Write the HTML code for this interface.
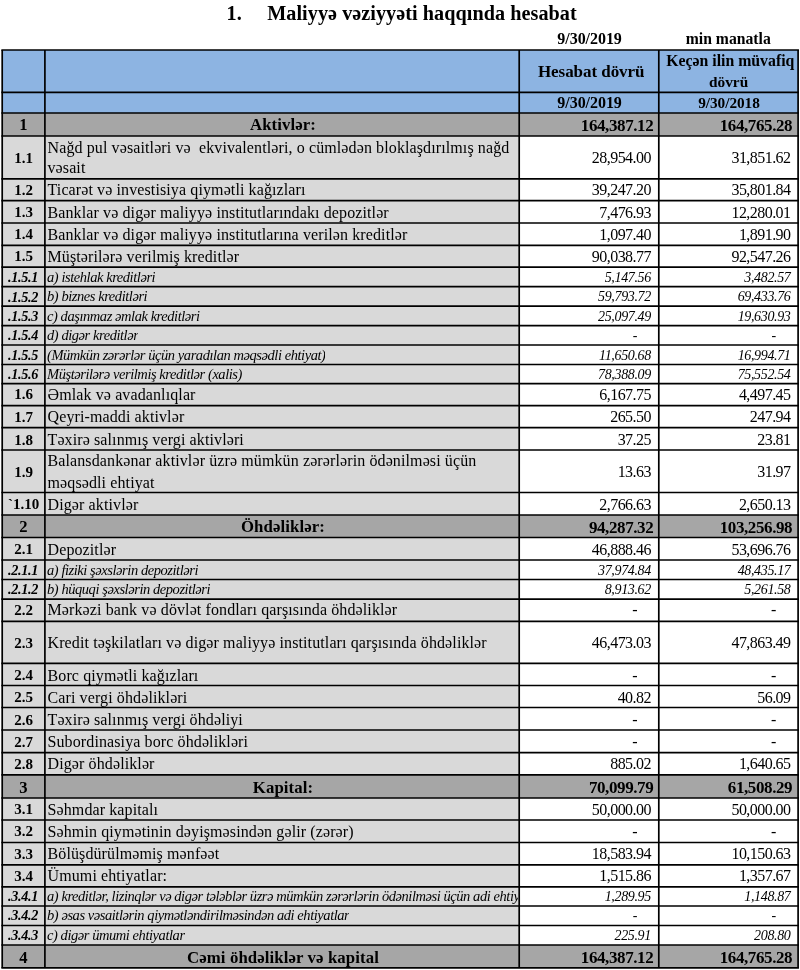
<!DOCTYPE html>
<html lang="az">
<head>
<meta charset="utf-8">
<title>Maliyyə vəziyyəti haqqında hesabat</title>
<style>
html,body{margin:0;padding:0;background:#fff;overflow:hidden;}
body{width:800px;height:970px;position:relative;overflow:hidden;font-family:"Liberation Serif",serif;color:#000;}
svg{position:absolute;left:0;top:0;}
.t{position:absolute;white-space:pre;line-height:40px;height:40px;margin:0;padding:0;}
.t::before{content:"";display:inline-block;height:30px;width:0;vertical-align:baseline;}
.nt{font-size:16px;letter-spacing:0.11px;}
.nn{font-size:16px;letter-spacing:-0.55px;}
.nl{font-size:15px;letter-spacing:0.0px;font-weight:bold;}
.it{font-size:14.5px;letter-spacing:-0.44px;font-style:italic;}
.inn{font-size:14px;letter-spacing:-0.35px;font-style:italic;}
.il{font-size:14.2px;letter-spacing:-0.3px;font-style:italic;font-weight:bold;}
.sl{font-size:16.6px;font-weight:bold;}
.st{font-size:16.8px;font-weight:bold;letter-spacing:0.1px;}
.sn{font-size:17px;letter-spacing:-0.4px;font-weight:bold;}
.hb{font-size:17px;font-weight:bold;letter-spacing:-0.05px;}
.hb2{font-size:15.8px;font-weight:bold;letter-spacing:0;}
.hd{font-size:16px;font-weight:bold;letter-spacing:-0.05px;}
.ttl{font-size:20.2px;font-weight:bold;letter-spacing:0.05px;}
</style>
</head>
<body>
<svg width="800" height="970" viewBox="0 0 800 970">
<g>
<rect x="2.20" y="50.00" width="795.90" height="42.30" fill="#8db4e2"/>
<rect x="2.20" y="92.30" width="795.90" height="20.70" fill="#8db4e2"/>
<rect x="2.20" y="113.00" width="795.90" height="23.00" fill="#a6a6a6"/>
<rect x="2.20" y="136.00" width="517.00" height="42.80" fill="#d9d9d9"/>
<rect x="2.20" y="178.80" width="517.00" height="21.90" fill="#d9d9d9"/>
<rect x="2.20" y="200.70" width="517.00" height="22.30" fill="#d9d9d9"/>
<rect x="2.20" y="223.00" width="517.00" height="22.30" fill="#d9d9d9"/>
<rect x="2.20" y="245.30" width="517.00" height="21.90" fill="#d9d9d9"/>
<rect x="2.20" y="267.20" width="517.00" height="19.50" fill="#d9d9d9"/>
<rect x="2.20" y="286.70" width="517.00" height="19.50" fill="#d9d9d9"/>
<rect x="2.20" y="306.20" width="517.00" height="19.50" fill="#d9d9d9"/>
<rect x="2.20" y="325.70" width="517.00" height="19.30" fill="#d9d9d9"/>
<rect x="2.20" y="345.00" width="517.00" height="19.50" fill="#d9d9d9"/>
<rect x="2.20" y="364.50" width="517.00" height="19.10" fill="#d9d9d9"/>
<rect x="2.20" y="383.60" width="517.00" height="22.00" fill="#d9d9d9"/>
<rect x="2.20" y="405.60" width="517.00" height="22.10" fill="#d9d9d9"/>
<rect x="2.20" y="427.70" width="517.00" height="22.30" fill="#d9d9d9"/>
<rect x="2.20" y="450.00" width="517.00" height="42.50" fill="#d9d9d9"/>
<rect x="2.20" y="492.50" width="517.00" height="22.50" fill="#d9d9d9"/>
<rect x="2.20" y="515.00" width="795.90" height="22.50" fill="#a6a6a6"/>
<rect x="2.20" y="537.50" width="517.00" height="22.50" fill="#d9d9d9"/>
<rect x="2.20" y="560.00" width="517.00" height="19.50" fill="#d9d9d9"/>
<rect x="2.20" y="579.50" width="517.00" height="19.70" fill="#d9d9d9"/>
<rect x="2.20" y="599.20" width="517.00" height="22.10" fill="#d9d9d9"/>
<rect x="2.20" y="621.30" width="517.00" height="42.00" fill="#d9d9d9"/>
<rect x="2.20" y="663.30" width="517.00" height="22.20" fill="#d9d9d9"/>
<rect x="2.20" y="685.50" width="517.00" height="22.00" fill="#d9d9d9"/>
<rect x="2.20" y="707.50" width="517.00" height="22.50" fill="#d9d9d9"/>
<rect x="2.20" y="730.00" width="517.00" height="22.70" fill="#d9d9d9"/>
<rect x="2.20" y="752.70" width="517.00" height="22.10" fill="#d9d9d9"/>
<rect x="2.20" y="774.80" width="795.90" height="23.20" fill="#a6a6a6"/>
<rect x="2.20" y="798.00" width="517.00" height="22.00" fill="#d9d9d9"/>
<rect x="2.20" y="820.00" width="517.00" height="22.50" fill="#d9d9d9"/>
<rect x="2.20" y="842.50" width="517.00" height="22.30" fill="#d9d9d9"/>
<rect x="2.20" y="864.80" width="517.00" height="22.00" fill="#d9d9d9"/>
<rect x="2.20" y="886.80" width="517.00" height="19.20" fill="#d9d9d9"/>
<rect x="2.20" y="906.00" width="517.00" height="19.50" fill="#d9d9d9"/>
<rect x="2.20" y="925.50" width="517.00" height="19.50" fill="#d9d9d9"/>
<rect x="2.20" y="945.00" width="795.90" height="22.90" fill="#a6a6a6"/>
</g>
<g stroke="#000" stroke-width="1.7" stroke-linecap="butt" fill="none">
<line x1="1.35" y1="50.00" x2="798.95" y2="50.00"/>
<line x1="1.35" y1="92.30" x2="798.95" y2="92.30"/>
<line x1="1.35" y1="113.00" x2="798.95" y2="113.00"/>
<line x1="1.35" y1="136.00" x2="798.95" y2="136.00"/>
<line x1="1.35" y1="178.80" x2="798.95" y2="178.80"/>
<line x1="1.35" y1="200.70" x2="798.95" y2="200.70"/>
<line x1="1.35" y1="223.00" x2="798.95" y2="223.00"/>
<line x1="1.35" y1="245.30" x2="798.95" y2="245.30"/>
<line x1="1.35" y1="267.20" x2="798.95" y2="267.20"/>
<line x1="1.35" y1="286.70" x2="798.95" y2="286.70"/>
<line x1="1.35" y1="306.20" x2="798.95" y2="306.20"/>
<line x1="1.35" y1="325.70" x2="798.95" y2="325.70"/>
<line x1="1.35" y1="345.00" x2="798.95" y2="345.00"/>
<line x1="1.35" y1="364.50" x2="798.95" y2="364.50"/>
<line x1="1.35" y1="383.60" x2="798.95" y2="383.60"/>
<line x1="1.35" y1="405.60" x2="798.95" y2="405.60"/>
<line x1="1.35" y1="427.70" x2="798.95" y2="427.70"/>
<line x1="1.35" y1="450.00" x2="798.95" y2="450.00"/>
<line x1="1.35" y1="492.50" x2="798.95" y2="492.50"/>
<line x1="1.35" y1="515.00" x2="798.95" y2="515.00"/>
<line x1="1.35" y1="537.50" x2="798.95" y2="537.50"/>
<line x1="1.35" y1="560.00" x2="798.95" y2="560.00"/>
<line x1="1.35" y1="579.50" x2="798.95" y2="579.50"/>
<line x1="1.35" y1="599.20" x2="798.95" y2="599.20"/>
<line x1="1.35" y1="621.30" x2="798.95" y2="621.30"/>
<line x1="1.35" y1="663.30" x2="798.95" y2="663.30"/>
<line x1="1.35" y1="685.50" x2="798.95" y2="685.50"/>
<line x1="1.35" y1="707.50" x2="798.95" y2="707.50"/>
<line x1="1.35" y1="730.00" x2="798.95" y2="730.00"/>
<line x1="1.35" y1="752.70" x2="798.95" y2="752.70"/>
<line x1="1.35" y1="774.80" x2="798.95" y2="774.80"/>
<line x1="1.35" y1="798.00" x2="798.95" y2="798.00"/>
<line x1="1.35" y1="820.00" x2="798.95" y2="820.00"/>
<line x1="1.35" y1="842.50" x2="798.95" y2="842.50"/>
<line x1="1.35" y1="864.80" x2="798.95" y2="864.80"/>
<line x1="1.35" y1="886.80" x2="798.95" y2="886.80"/>
<line x1="1.35" y1="906.00" x2="798.95" y2="906.00"/>
<line x1="1.35" y1="925.50" x2="798.95" y2="925.50"/>
<line x1="1.35" y1="945.00" x2="798.95" y2="945.00"/>
<line x1="1.35" y1="967.90" x2="798.95" y2="967.90"/>
<line x1="2.20" y1="50.00" x2="2.20" y2="967.70"/>
<line x1="44.90" y1="50.00" x2="44.90" y2="967.70"/>
<line x1="519.20" y1="50.00" x2="519.20" y2="967.70"/>
<line x1="658.80" y1="50.00" x2="658.80" y2="967.70"/>
<line x1="798.10" y1="50.00" x2="798.10" y2="967.70"/>
</g>
</svg>
<div class="t hb" style="top:47.35px;left:391.20px;width:400px;text-align:center;">Hesabat dövrü</div>
<div class="t hb2" style="top:35.80px;left:530.30px;width:400px;text-align:center;">Keçən ilin müvafiq</div>
<div class="t hb2" style="top:56.90px;left:528.60px;width:400px;text-align:center;font-size:15.3px;">dövrü</div>
<div class="t hd" style="top:78.10px;left:389.60px;width:400px;text-align:center;">9/30/2019</div>
<div class="t hd" style="top:78.10px;left:529.00px;width:400px;text-align:center;font-size:15.3px;">9/30/2018</div>
<div class="t sl" style="top:100.30px;left:-176.60px;width:400px;text-align:center;">1</div>
<div class="t st" style="top:100.30px;left:83.00px;width:400px;text-align:center;">Aktivlər:</div>
<div class="t sn" style="top:100.60px;right:146.70px;">164,387.12</div>
<div class="t sn" style="top:100.60px;right:7.80px;">164,765.28</div>
<div class="t nt" style="top:123.40px;left:47.50px;">Nağd pul vəsaitləri və  ekvivalentləri, o cümlədən bloklaşdırılmış nağd</div>
<div class="t nt" style="top:143.20px;left:47.50px;">vəsait</div>
<div class="t nl" style="top:132.60px;left:-176.30px;width:400px;text-align:center;">1.1</div>
<div class="t nn" style="top:133.10px;right:149.10px;">28,954.00</div>
<div class="t nn" style="top:133.10px;right:9.50px;">31,851.62</div>
<div class="t nt" style="top:165.00px;left:47.50px;">Ticarət və investisiya qiymətli kağızları</div>
<div class="t nl" style="top:164.60px;left:-176.30px;width:400px;text-align:center;">1.2</div>
<div class="t nn" style="top:165.00px;right:149.10px;">39,247.20</div>
<div class="t nn" style="top:165.00px;right:9.50px;">35,801.84</div>
<div class="t nt" style="top:187.50px;left:47.50px;">Banklar və digər maliyyə institutlarındakı depozitlər</div>
<div class="t nl" style="top:187.10px;left:-176.30px;width:400px;text-align:center;">1.3</div>
<div class="t nn" style="top:187.50px;right:149.10px;">7,476.93</div>
<div class="t nn" style="top:187.50px;right:9.50px;">12,280.01</div>
<div class="t nt" style="top:209.80px;left:47.50px;">Banklar və digər maliyyə institutlarına verilən kreditlər</div>
<div class="t nl" style="top:209.40px;left:-176.30px;width:400px;text-align:center;">1.4</div>
<div class="t nn" style="top:209.80px;right:149.10px;">1,097.40</div>
<div class="t nn" style="top:209.80px;right:9.50px;">1,891.90</div>
<div class="t nt" style="top:231.70px;left:47.50px;">Müştərilərə verilmiş kreditlər</div>
<div class="t nl" style="top:231.30px;left:-176.30px;width:400px;text-align:center;">1.5</div>
<div class="t nn" style="top:231.70px;right:149.10px;">90,038.77</div>
<div class="t nn" style="top:231.70px;right:9.50px;">92,547.26</div>
<div class="t it" style="top:252.00px;left:47.00px;max-width:471.4px;overflow:hidden;">a) istehlak kreditləri</div>
<div class="t il" style="top:252.20px;left:-177.00px;width:400px;text-align:center;">.1.5.1</div>
<div class="t inn" style="top:252.00px;right:149.10px;">5,147.56</div>
<div class="t inn" style="top:252.00px;right:9.50px;">3,482.57</div>
<div class="t it" style="top:271.40px;left:47.00px;max-width:471.4px;overflow:hidden;">b) biznes kreditləri</div>
<div class="t il" style="top:271.60px;left:-177.00px;width:400px;text-align:center;">.1.5.2</div>
<div class="t inn" style="top:271.40px;right:149.10px;">59,793.72</div>
<div class="t inn" style="top:271.40px;right:9.50px;">69,433.76</div>
<div class="t it" style="top:291.00px;left:47.00px;max-width:471.4px;overflow:hidden;">c) daşınmaz əmlak kreditləri</div>
<div class="t il" style="top:291.20px;left:-177.00px;width:400px;text-align:center;">.1.5.3</div>
<div class="t inn" style="top:291.00px;right:149.10px;">25,097.49</div>
<div class="t inn" style="top:291.00px;right:9.50px;">19,630.93</div>
<div class="t it" style="top:310.00px;left:47.00px;max-width:471.4px;overflow:hidden;">d) digər kreditlər</div>
<div class="t il" style="top:310.20px;left:-177.00px;width:400px;text-align:center;">.1.5.4</div>
<div class="t inn" style="top:310.00px;right:162.50px;letter-spacing:0;">-</div>
<div class="t inn" style="top:310.00px;right:23.80px;letter-spacing:0;">-</div>
<div class="t it" style="top:329.50px;left:47.00px;max-width:471.4px;overflow:hidden;">(Mümkün zərərlər üçün yaradılan məqsədli ehtiyat)</div>
<div class="t il" style="top:329.70px;left:-177.00px;width:400px;text-align:center;">.1.5.5</div>
<div class="t inn" style="top:329.50px;right:149.10px;">11,650.68</div>
<div class="t inn" style="top:329.50px;right:9.50px;">16,994.71</div>
<div class="t it" style="top:349.00px;left:47.00px;max-width:471.4px;overflow:hidden;">Müştərilərə verilmiş kreditlər (xalis)</div>
<div class="t il" style="top:349.20px;left:-177.00px;width:400px;text-align:center;">.1.5.6</div>
<div class="t inn" style="top:349.00px;right:149.10px;">78,388.09</div>
<div class="t inn" style="top:349.00px;right:9.50px;">75,552.54</div>
<div class="t nt" style="top:369.80px;left:47.50px;">Əmlak və avadanlıqlar</div>
<div class="t nl" style="top:369.40px;left:-176.30px;width:400px;text-align:center;">1.6</div>
<div class="t nn" style="top:369.80px;right:149.10px;">6,167.75</div>
<div class="t nn" style="top:369.80px;right:9.50px;">4,497.45</div>
<div class="t nt" style="top:392.10px;left:47.50px;">Qeyri-maddi aktivlər</div>
<div class="t nl" style="top:391.70px;left:-176.30px;width:400px;text-align:center;">1.7</div>
<div class="t nn" style="top:392.10px;right:149.10px;">265.50</div>
<div class="t nn" style="top:392.10px;right:9.50px;">247.94</div>
<div class="t nt" style="top:414.90px;left:47.50px;">Təxirə salınmış vergi aktivləri</div>
<div class="t nl" style="top:414.50px;left:-176.30px;width:400px;text-align:center;">1.8</div>
<div class="t nn" style="top:414.90px;right:149.10px;">37.25</div>
<div class="t nn" style="top:414.90px;right:9.50px;">23.81</div>
<div class="t nt" style="top:436.00px;left:47.50px;">Balansdankənar aktivlər üzrə mümkün zərərlərin ödənilməsi üçün</div>
<div class="t nt" style="top:457.50px;left:47.50px;">məqsədli ehtiyat</div>
<div class="t nl" style="top:446.65px;left:-176.30px;width:400px;text-align:center;">1.9</div>
<div class="t nn" style="top:447.15px;right:149.10px;">13.63</div>
<div class="t nn" style="top:447.15px;right:9.50px;">31.97</div>
<div class="t nt" style="top:479.55px;left:47.50px;">Digər aktivlər</div>
<div class="t nl" style="top:479.15px;left:-176.30px;width:400px;text-align:center;">`1.10</div>
<div class="t nn" style="top:479.55px;right:149.10px;">2,766.63</div>
<div class="t nn" style="top:479.55px;right:9.50px;">2,650.13</div>
<div class="t sl" style="top:502.20px;left:-176.60px;width:400px;text-align:center;">2</div>
<div class="t st" style="top:502.20px;left:83.00px;width:400px;text-align:center;">Öhdəliklər:</div>
<div class="t sn" style="top:502.50px;right:146.70px;">94,287.32</div>
<div class="t sn" style="top:502.50px;right:7.80px;">103,256.98</div>
<div class="t nt" style="top:524.80px;left:47.50px;">Depozitlər</div>
<div class="t nl" style="top:524.40px;left:-176.30px;width:400px;text-align:center;">2.1</div>
<div class="t nn" style="top:524.80px;right:149.10px;">46,888.46</div>
<div class="t nn" style="top:524.80px;right:9.50px;">53,696.76</div>
<div class="t it" style="top:544.80px;left:47.00px;max-width:471.4px;overflow:hidden;">a) fiziki şəxslərin depozitləri</div>
<div class="t il" style="top:545.00px;left:-177.00px;width:400px;text-align:center;">.2.1.1</div>
<div class="t inn" style="top:544.80px;right:149.10px;">37,974.84</div>
<div class="t inn" style="top:544.80px;right:9.50px;">48,435.17</div>
<div class="t it" style="top:564.20px;left:47.00px;max-width:471.4px;overflow:hidden;">b) hüquqi şəxslərin depozitləri</div>
<div class="t il" style="top:564.40px;left:-177.00px;width:400px;text-align:center;">.2.1.2</div>
<div class="t inn" style="top:564.20px;right:149.10px;">8,913.62</div>
<div class="t inn" style="top:564.20px;right:9.50px;">5,261.58</div>
<div class="t nt" style="top:585.40px;left:47.50px;">Mərkəzi bank və dövlət fondları qarşısında öhdəliklər</div>
<div class="t nl" style="top:585.00px;left:-176.30px;width:400px;text-align:center;">2.2</div>
<div class="t nn" style="top:585.40px;right:162.50px;letter-spacing:0;">-</div>
<div class="t nn" style="top:585.40px;right:23.80px;letter-spacing:0;">-</div>
<div class="t nt" style="top:618.20px;left:47.50px;">Kredit təşkilatları və digər maliyyə institutları qarşısında öhdəliklər</div>
<div class="t nl" style="top:617.80px;left:-176.30px;width:400px;text-align:center;">2.3</div>
<div class="t nn" style="top:618.20px;right:149.10px;">46,473.03</div>
<div class="t nn" style="top:618.20px;right:9.50px;">47,863.49</div>
<div class="t nt" style="top:650.80px;left:47.50px;">Borc qiymətli kağızları</div>
<div class="t nl" style="top:650.40px;left:-176.30px;width:400px;text-align:center;">2.4</div>
<div class="t nn" style="top:650.80px;right:162.50px;letter-spacing:0;">-</div>
<div class="t nn" style="top:650.80px;right:23.80px;letter-spacing:0;">-</div>
<div class="t nt" style="top:672.80px;left:47.50px;">Cari vergi öhdəlikləri</div>
<div class="t nl" style="top:672.40px;left:-176.30px;width:400px;text-align:center;">2.5</div>
<div class="t nn" style="top:672.80px;right:149.10px;">40.82</div>
<div class="t nn" style="top:672.80px;right:9.50px;">56.09</div>
<div class="t nt" style="top:694.90px;left:47.50px;">Təxirə salınmış vergi öhdəliyi</div>
<div class="t nl" style="top:694.50px;left:-176.30px;width:400px;text-align:center;">2.6</div>
<div class="t nn" style="top:694.90px;right:162.50px;letter-spacing:0;">-</div>
<div class="t nn" style="top:694.90px;right:23.80px;letter-spacing:0;">-</div>
<div class="t nt" style="top:717.30px;left:47.50px;">Subordinasiya borc öhdəlikləri</div>
<div class="t nl" style="top:716.90px;left:-176.30px;width:400px;text-align:center;">2.7</div>
<div class="t nn" style="top:717.30px;right:162.50px;letter-spacing:0;">-</div>
<div class="t nn" style="top:717.30px;right:23.80px;letter-spacing:0;">-</div>
<div class="t nt" style="top:739.10px;left:47.50px;">Digər öhdəliklər</div>
<div class="t nl" style="top:738.70px;left:-176.30px;width:400px;text-align:center;">2.8</div>
<div class="t nn" style="top:739.10px;right:149.10px;">885.02</div>
<div class="t nn" style="top:739.10px;right:9.50px;">1,640.65</div>
<div class="t sl" style="top:762.50px;left:-176.60px;width:400px;text-align:center;">3</div>
<div class="t st" style="top:762.50px;left:83.00px;width:400px;text-align:center;">Kapital:</div>
<div class="t sn" style="top:762.80px;right:146.70px;">70,099.79</div>
<div class="t sn" style="top:762.80px;right:7.80px;">61,508.29</div>
<div class="t nt" style="top:784.55px;left:47.50px;">Səhmdar kapitalı</div>
<div class="t nl" style="top:784.15px;left:-176.30px;width:400px;text-align:center;">3.1</div>
<div class="t nn" style="top:784.55px;right:149.10px;">50,000.00</div>
<div class="t nn" style="top:784.55px;right:9.50px;">50,000.00</div>
<div class="t nt" style="top:806.55px;left:47.50px;">Səhmin qiymətinin dəyişməsindən gəlir (zərər)</div>
<div class="t nl" style="top:806.15px;left:-176.30px;width:400px;text-align:center;">3.2</div>
<div class="t nn" style="top:806.55px;right:162.50px;letter-spacing:0;">-</div>
<div class="t nn" style="top:806.55px;right:23.80px;letter-spacing:0;">-</div>
<div class="t nt" style="top:829.40px;left:47.50px;">Bölüşdürülməmiş mənfəət</div>
<div class="t nl" style="top:829.00px;left:-176.30px;width:400px;text-align:center;">3.3</div>
<div class="t nn" style="top:829.40px;right:149.10px;">18,583.94</div>
<div class="t nn" style="top:829.40px;right:9.50px;">10,150.63</div>
<div class="t nt" style="top:851.20px;left:47.50px;">Ümumi ehtiyatlar:</div>
<div class="t nl" style="top:850.80px;left:-176.30px;width:400px;text-align:center;">3.4</div>
<div class="t nn" style="top:851.20px;right:149.10px;">1,515.86</div>
<div class="t nn" style="top:851.20px;right:9.50px;">1,357.67</div>
<div class="t it" style="top:871.00px;left:47.00px;max-width:471.4px;overflow:hidden;">a) kreditlər, lizinqlər və digər tələblər üzrə mümkün zərərlərin ödənilməsi üçün adi ehtiyatlar</div>
<div class="t il" style="top:871.20px;left:-177.00px;width:400px;text-align:center;">.3.4.1</div>
<div class="t inn" style="top:871.00px;right:149.10px;">1,289.95</div>
<div class="t inn" style="top:871.00px;right:9.50px;">1,148.87</div>
<div class="t it" style="top:890.20px;left:47.00px;max-width:471.4px;overflow:hidden;">b) əsas vəsaitlərin qiymətləndirilməsindən adi ehtiyatlar</div>
<div class="t il" style="top:890.40px;left:-177.00px;width:400px;text-align:center;">.3.4.2</div>
<div class="t inn" style="top:890.20px;right:162.50px;letter-spacing:0;">-</div>
<div class="t inn" style="top:890.20px;right:23.80px;letter-spacing:0;">-</div>
<div class="t it" style="top:909.60px;left:47.00px;max-width:471.4px;overflow:hidden;">c) digər ümumi ehtiyatlar</div>
<div class="t il" style="top:909.80px;left:-177.00px;width:400px;text-align:center;">.3.4.3</div>
<div class="t inn" style="top:909.60px;right:149.10px;">225.91</div>
<div class="t inn" style="top:909.60px;right:9.50px;">208.80</div>
<div class="t sl" style="top:932.70px;left:-176.60px;width:400px;text-align:center;">4</div>
<div class="t st" style="top:932.70px;left:83.00px;width:400px;text-align:center;">Cəmi öhdəliklər və kapital</div>
<div class="t sn" style="top:933.00px;right:146.70px;">164,387.12</div>
<div class="t sn" style="top:933.00px;right:7.80px;">164,765.28</div>
<div class="t ttl" style="top:-10.20px;left:226.50px;">1.</div>
<div class="t ttl" style="top:-10.20px;left:267.20px;">Maliyyə vəziyyəti haqqında hesabat</div>
<div class="t hd" style="top:14.30px;left:389.60px;width:400px;text-align:center;">9/30/2019</div>
<div class="t hd" style="top:13.50px;left:528.30px;width:400px;text-align:center;font-size:15.7px;letter-spacing:0;">min manatla</div>
</body>
</html>
